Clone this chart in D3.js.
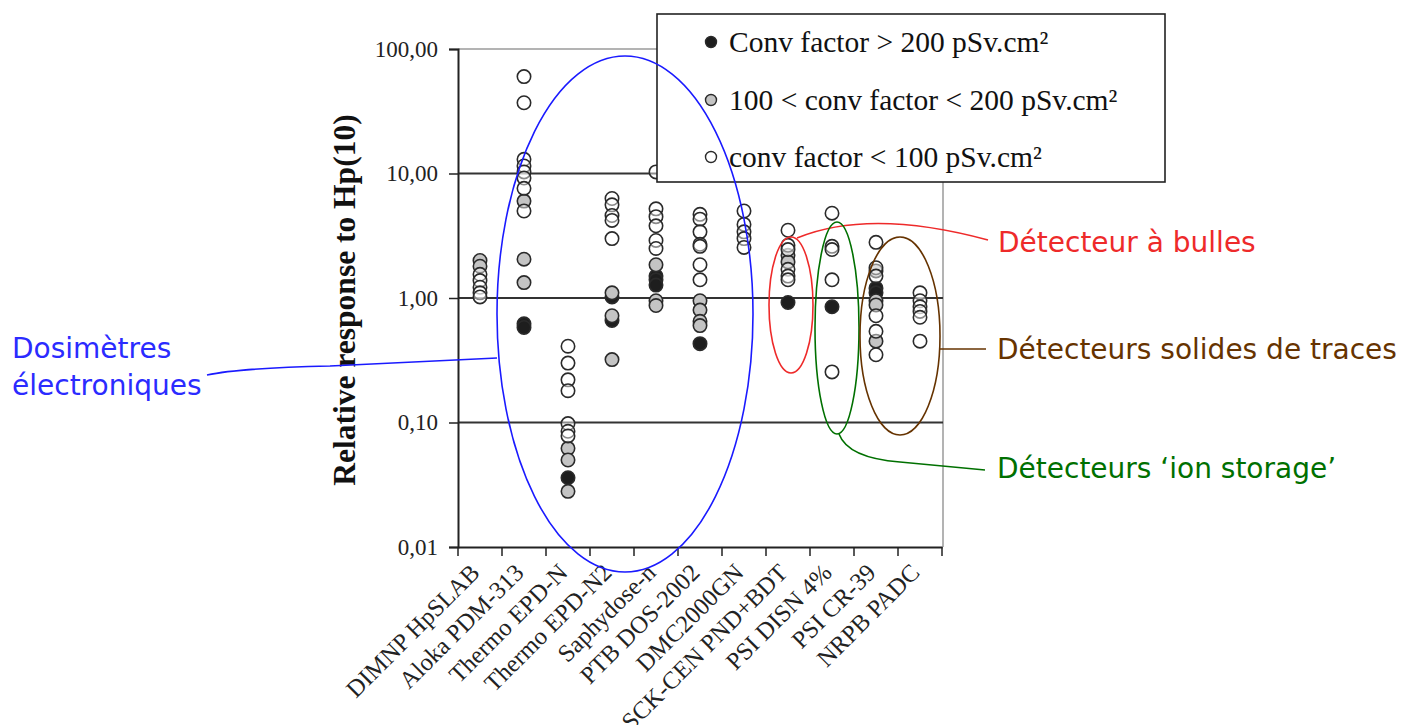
<!DOCTYPE html>
<html>
<head>
<meta charset="utf-8">
<script src="https://cdn.jsdelivr.net/npm/d3@7"></script>
<style>
  html, body { margin: 0; padding: 0; background: #fff; }
  svg { display: block; }
</style>
</head>
<body>
<svg id="chart" width="1404" height="725"></svg>
<script>
// Detector names along the x axis
const categories = [
  "DIMNP HpSLAB", "Aloka PDM-313", "Thermo EPD-N", "Thermo EPD-N2",
  "Saphydose-n", "PTB DOS-2002", "DMC2000GN", "SCK-CEN PND+BDT",
  "PSI DISN 4%", "PSI CR-39", "NRPB PADC"
];

// Relative response to Hp(10), one list per detector, grouped by conversion factor
const convHigh = [   // conv factor > 200 pSv.cm²
  [], [0.62, 0.58], [0.036], [1.02, 0.66],
  [1.5, 1.4, 1.27], [0.43], [], [0.92],
  [0.85], [1.2, 1.1], []
];
const convMid = [    // 100 < conv factor < 200 pSv.cm²
  [2.0, 1.8], [6.0, 2.05, 1.33], [0.062, 0.05, 0.028], [1.1, 0.72, 0.32],
  [1.85, 0.95, 0.87], [0.95, 0.8, 0.65, 0.6], [], [2.2, 1.95],
  [], [1.65, 0.95, 0.88, 0.45], []
];
const convLow = [    // conv factor < 100 pSv.cm²
  [1.55, 1.38, 1.22, 1.1, 1.02],
  [60, 37, 13, 11.5, 10.3, 9.2, 7.6, 5.0],
  [0.41, 0.30, 0.22, 0.18, 0.098, 0.085, 0.078],
  [6.3, 5.6, 4.6, 4.2, 3.0],
  [10.3, 5.2, 4.5, 3.8, 2.9, 2.5],
  [4.7, 4.3, 3.4, 2.7, 2.6, 1.85, 1.4],
  [5.0, 3.9, 3.4, 3.0, 2.55],
  [3.5, 2.65, 2.45, 1.7, 1.5, 1.4],
  [4.8, 2.6, 2.45, 1.4, 0.255],
  [2.8, 1.75, 1.5, 0.72, 0.54, 0.35],
  [1.1, 0.95, 0.85, 0.78, 0.7, 0.45]
];

const yTicks = [0.01, 0.1, 1, 10, 100];
const legendLabels = [
  "Conv factor > 200 pSv.cm²",
  "100 < conv factor < 200 pSv.cm²",
  "conv factor < 100 pSv.cm²"
];
const yTitle = "Relative response to Hp(10)";

const svg = d3.select("#chart");
const serif = "'Liberation Serif', 'Times New Roman', serif";
const sans = "'DejaVu Sans', Verdana, sans-serif";

const plotLeft = 458, plotRight = 942, plotTop = 49, plotBottom = 547;
const x = d3.scaleBand().domain(categories).range([plotLeft, plotRight]);
const y = d3.scaleLog().domain([0.01, 100]).range([plotBottom, plotTop]);

// Plot frame: light top and right edges
svg.append("line").attr("x1", plotLeft).attr("x2", plotRight + 1).attr("y1", y(100)).attr("y2", y(100))
  .attr("stroke", "#9a9a9a").attr("stroke-width", 1.5);
svg.append("line").attr("x1", plotRight + 1).attr("x2", plotRight + 1).attr("y1", y(100)).attr("y2", plotBottom)
  .attr("stroke", "#9a9a9a").attr("stroke-width", 1.5);

// Decade grid lines
svg.append("g").selectAll("line").data([0.1, 1, 10]).join("line")
  .attr("x1", plotLeft).attr("x2", plotRight + 1)
  .attr("y1", d => y(d)).attr("y2", d => y(d))
  .attr("stroke", "#333").attr("stroke-width", 2);

// Y axis
const fmt = d => d3.format(".2f")(d).replace(".", ",");
const yAxis = svg.append("g").attr("transform", `translate(${plotLeft},0)`)
  .call(d3.axisLeft(y).tickValues(yTicks).tickFormat(fmt).tickSize(9).tickPadding(11));
yAxis.select(".domain").attr("stroke", "#222").attr("stroke-width", 2);
yAxis.selectAll(".tick line").attr("stroke", "#222").attr("stroke-width", 1.5);
yAxis.selectAll(".tick text").attr("font-family", serif).attr("font-size", 23).attr("fill", "#222");

// X axis with ticks between categories
const xAxis = svg.append("g").attr("transform", `translate(0,${plotBottom})`)
  .call(d3.axisBottom(x).tickSize(0).tickPadding(0));
xAxis.select(".domain").attr("stroke", "#222").attr("stroke-width", 2);
xAxis.selectAll(".tick text")
  .attr("font-family", serif).attr("font-size", 24.5).attr("fill", "#222")
  .attr("text-anchor", "end")
  .attr("transform", "translate(-5,21) rotate(-45)")
  .attr("dy", "0.35em");
const boundaries = categories.map(c => x(c)).concat([x.range()[1]]);
xAxis.append("g").selectAll("line").data(boundaries).join("line")
  .attr("x1", d => d).attr("x2", d => d).attr("y1", 0).attr("y2", 9)
  .attr("stroke", "#222").attr("stroke-width", 1.5);

// Y axis title
svg.append("text")
  .attr("transform", `translate(355,300) rotate(-90)`)
  .attr("text-anchor", "middle")
  .attr("font-family", serif).attr("font-weight", "bold").attr("font-size", 31.5)
  .attr("fill", "#111")
  .text(yTitle);

// Points: darkest class underneath, open circles on top
const classes = [
  { data: convHigh, fill: "#1e1e1e", opacity: 1 },
  { data: convMid, fill: "#c4c4c4", opacity: 1 },
  { data: convLow, fill: "#ffffff", opacity: 0.45 }
];
const pts = svg.append("g");
classes.forEach(cls => {
  const flat = [];
  cls.data.forEach((vals, i) => vals.forEach(v => flat.push({ cat: categories[i], v })));
  pts.append("g").selectAll("circle").data(flat).join("circle")
    .attr("cx", d => x(d.cat) + x.bandwidth() / 2)
    .attr("cy", d => y(d.v))
    .attr("r", 6.7)
    .attr("fill", cls.fill).attr("fill-opacity", cls.opacity)
    .attr("stroke", "#2a2a2a").attr("stroke-width", 1.6);
});

// Legend box
const lg = svg.append("g");
lg.append("rect").attr("x", 657).attr("y", 14).attr("width", 508).attr("height", 168)
  .attr("fill", "#fff").attr("stroke", "#222").attr("stroke-width", 1.6);
const legRows = [42, 100, 157];
legendLabels.forEach((t, i) => {
  lg.append("circle").attr("cx", 711).attr("cy", legRows[i]).attr("r", 5.5)
    .attr("fill", classes[i].fill).attr("stroke", "#2a2a2a").attr("stroke-width", 1.4);
  lg.append("text").attr("x", 729).attr("y", legRows[i]).attr("dy", "0.35em")
    .attr("font-family", serif).attr("font-size", 29.5).attr("fill", "#111").text(t);
});

// Annotations grouping the detector families
const ann = svg.append("g").attr("fill", "none").attr("stroke-width", 1.6);

// Electronic dosimeters
ann.append("ellipse").attr("cx", 625).attr("cy", 314).attr("rx", 128).attr("ry", 258).attr("stroke", "#1a1aff");
ann.append("path").attr("d", "M207,375 Q240,368 330,366 L497,358").attr("stroke", "#1a1aff");
svg.append("text").attr("x", 12).attr("y", 358).attr("font-family", sans).attr("font-size", 28)
  .attr("fill", "#2b2bff").text("Dosimètres");
svg.append("text").attr("x", 12).attr("y", 395).attr("font-family", sans).attr("font-size", 28)
  .attr("fill", "#2b2bff").text("électroniques");

// Bubble detectors
ann.append("ellipse").attr("cx", 791).attr("cy", 305).attr("rx", 22).attr("ry", 68).attr("stroke", "#ee2a2a");
ann.append("path").attr("d", "M797,238 Q870,208 988,240").attr("stroke", "#ee2a2a");
svg.append("text").attr("x", 998).attr("y", 252).attr("font-family", sans).attr("font-size", 28)
  .attr("fill", "#ee2a2a").text("Détecteur à bulles");

// Ion storage detectors
ann.append("ellipse").attr("cx", 837).attr("cy", 328).attr("rx", 22).attr("ry", 106).attr("stroke", "#007000");
ann.append("path").attr("d", "M839,434 Q848,458 900,462 L985,470").attr("stroke", "#007000");
svg.append("text").attr("x", 997).attr("y", 478).attr("font-family", sans).attr("font-size", 28)
  .attr("fill", "#007000").text("Détecteurs ‘ion storage’");

// Solid state track detectors
ann.append("ellipse").attr("cx", 900).attr("cy", 336).attr("rx", 40).attr("ry", 99).attr("stroke", "#663300");
ann.append("line").attr("x1", 940).attr("x2", 986).attr("y1", 349).attr("y2", 349).attr("stroke", "#663300");
svg.append("text").attr("x", 997).attr("y", 359).attr("font-family", sans).attr("font-size", 28)
  .attr("fill", "#663300").text("Détecteurs solides de traces");
</script>
</body>
</html>
